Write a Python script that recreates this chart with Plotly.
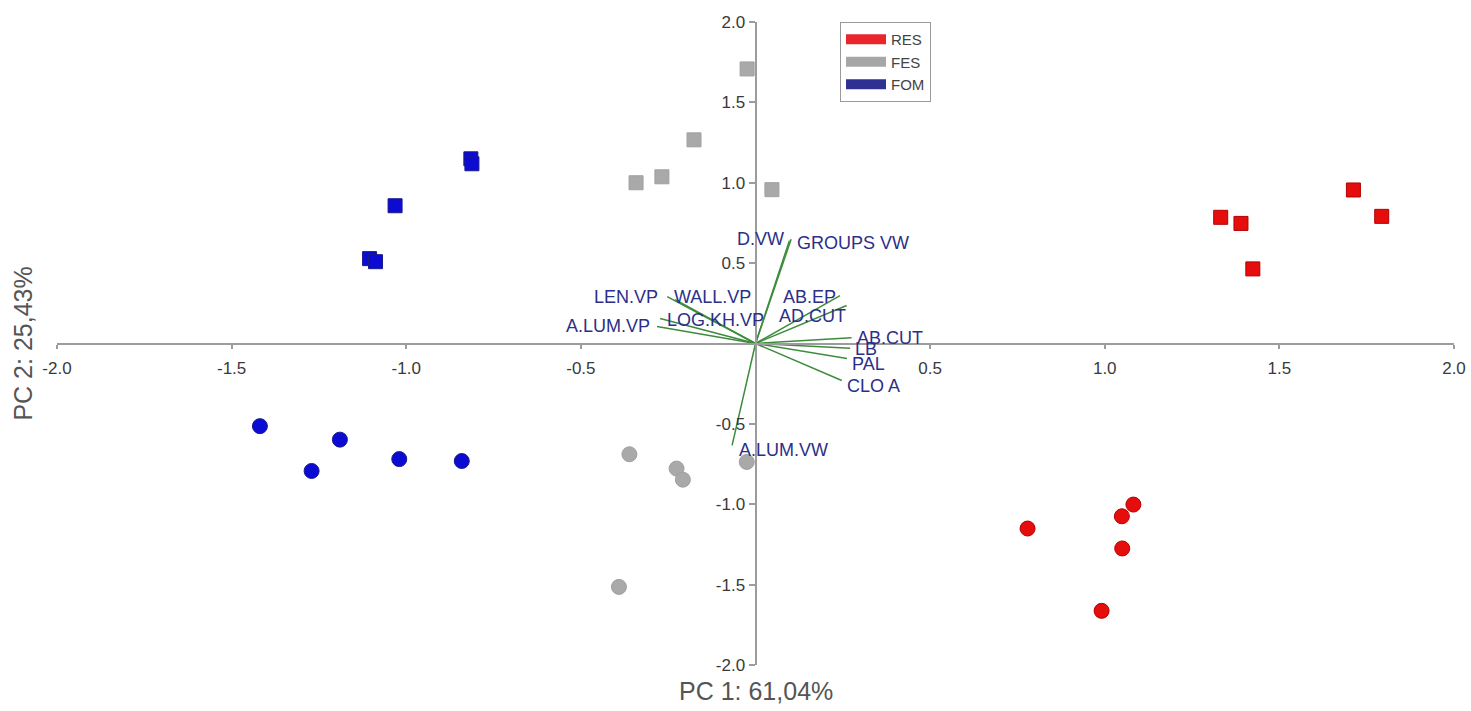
import plotly.graph_objects as go

# ---------------- data ----------------
GROUPS = ["RES", "FES", "FOM"]

# squares (upper cluster of each group)
RES_SQ_PC1 = [1.332, 1.390, 1.424, 1.712, 1.793]
RES_SQ_PC2 = [0.785, 0.747, 0.464, 0.955, 0.791]
FES_SQ_PC1 = [-0.024, -0.342, -0.268, -0.176, 0.047]
FES_SQ_PC2 = [1.708, 1.000, 1.037, 1.267, 0.957]
FOM_SQ_PC1 = [-0.815, -0.812, -1.032, -1.105, -1.088]
FOM_SQ_PC2 = [1.149, 1.118, 0.857, 0.528, 0.509]

# circles (lower cluster of each group)
RES_CI_PC1 = [0.779, 1.082, 1.049, 1.050, 0.991]
RES_CI_PC2 = [-1.151, -1.002, -1.075, -1.275, -1.663]
FES_CI_PC1 = [-0.361, -0.226, -0.208, -0.025, -0.391]
FES_CI_PC2 = [-0.689, -0.778, -0.847, -0.737, -1.514]
FOM_CI_PC1 = [-1.419, -1.190, -1.271, -1.020, -0.841]
FOM_CI_PC2 = [-0.514, -0.598, -0.793, -0.719, -0.731]

# loading vectors
LOADING_NAMES = ["D.VW", "GROUPS VW", "LEN.VP", "WALL.VP", "LOG.KH.VP", "A.LUM.VP",
                 "AB.EP", "AD.CUT", "AB.CUT", "LB", "PAL", "CLO A", "A.LUM.VW"]
LOADING_PC1 = [0.097, 0.102, -0.253, -0.230, -0.273, -0.282,
               0.242, 0.261, 0.275, 0.271, 0.262, 0.247, -0.067]
LOADING_PC2 = [0.640, 0.648, 0.292, 0.273, 0.155, 0.106,
               0.298, 0.236, 0.035, -0.030, -0.093, -0.230, -0.634]

TICK_VALUES = [-2.0, -1.5, -1.0, -0.5, 0.5, 1.0, 1.5, 2.0]
TICK_LABELS = ["-2.0", "-1.5", "-1.0", "-0.5", "0.5", "1.0", "1.5", "2.0"]
X_TITLE = "PC 1: 61,04%"
Y_TITLE = "PC 2: 25,43%"

# ---------------- styles ----------------
MARKER_COLORS = {"RES": "#e60d0d", "FES": "#a9a9a9", "FOM": "#0b0bd4"}
MARKER_EDGES = {"RES": "#b30000", "FES": "#a0a0a0", "FOM": "#1a1a8c"}
LEGEND_COLORS = {"RES": "#e8262c", "FES": "#a6a6a6", "FOM": "#2e3192"}
VECTOR_COLOR = "#3c8c3c"
LABEL_COLOR = "#2c2f88"
AXIS_COLOR = "#9c9c9c"
FONT = "Liberation Sans, Arial, sans-serif"

# label placement relative to vector end: (xanchor, xshift px, yshift px)
LABEL_PLACEMENT = {
    "D.VW": ("right", -3, 2),
    "GROUPS VW": ("left", 4, -4),
    "LEN.VP": ("right", -7, 0),
    "WALL.VP": ("left", -3, 3),
    "LOG.KH.VP": ("left", 5, -1),
    "A.LUM.VP": ("right", -5, 0),
    "AB.EP": ("right", -2, -1),
    "AD.CUT": ("right", 1, -10),
    "AB.CUT": ("left", 3, 0),
    "LB": ("left", 3, -1),
    "PAL": ("left", 3, -6),
    "CLO A": ("left", 3, -6),
    "A.LUM.VW": ("left", 5, -5),
}

fig = go.Figure()

# loading vectors (from origin)
vx, vy = [], []
for px, py in zip(LOADING_PC1, LOADING_PC2):
    vx += [0, px, None]
    vy += [0, py, None]
fig.add_trace(go.Scatter(x=vx, y=vy, mode="lines",
                         line=dict(color=VECTOR_COLOR, width=1.5),
                         showlegend=False, hoverinfo="skip"))

# score points
series = {
    "RES": ((RES_SQ_PC1, RES_SQ_PC2), (RES_CI_PC1, RES_CI_PC2)),
    "FES": ((FES_SQ_PC1, FES_SQ_PC2), (FES_CI_PC1, FES_CI_PC2)),
    "FOM": ((FOM_SQ_PC1, FOM_SQ_PC2), (FOM_CI_PC1, FOM_CI_PC2)),
}
for g in GROUPS:
    (sx, sy), (cx, cy) = series[g]
    fig.add_trace(go.Scatter(x=sx, y=sy, mode="markers", name=g, showlegend=False,
                             marker=dict(symbol="square", size=14, color=MARKER_COLORS[g],
                                         line=dict(color=MARKER_EDGES[g], width=1))))
    fig.add_trace(go.Scatter(x=cx, y=cy, mode="markers", name=g, showlegend=False,
                             marker=dict(symbol="circle", size=15, color=MARKER_COLORS[g],
                                         line=dict(color=MARKER_EDGES[g], width=1))))

# legend entries (colour bars)
for g in GROUPS:
    fig.add_trace(go.Scatter(x=[None], y=[None], mode="lines", name=g,
                             line=dict(color=LEGEND_COLORS[g], width=15)))

# vector labels
for name, px, py in zip(LOADING_NAMES, LOADING_PC1, LOADING_PC2):
    anchor, xs, ys = LABEL_PLACEMENT[name]
    fig.add_annotation(x=px, y=py, text=name, showarrow=False,
                       xanchor=anchor, yanchor="middle", xshift=xs, yshift=ys,
                       font=dict(family=FONT, size=18, color=LABEL_COLOR))

# axis titles
fig.add_annotation(x=0.5, y=-0.040, xref="paper", yref="paper", text=X_TITLE,
                   showarrow=False, xanchor="center", yanchor="middle",
                   font=dict(family=FONT, size=25, color="#555555"))
fig.add_annotation(x=-0.025, y=0.5, xref="paper", yref="paper", text=Y_TITLE,
                   showarrow=False, textangle=-90, xanchor="center", yanchor="middle",
                   font=dict(family=FONT, size=25, color="#555555"))

axis_common = dict(range=[-2.0, 2.0], domain=[0, 1], anchor="free", position=0.5,
                   showgrid=False, zeroline=False, showline=True, automargin=False,
                   linecolor=AXIS_COLOR, linewidth=2, ticks="outside",
                   tickcolor=AXIS_COLOR, tickwidth=2,
                   tickvals=TICK_VALUES, ticktext=TICK_LABELS,
                   tickfont=dict(family=FONT, size=17, color="#3a3a3a"),
                   fixedrange=True)

fig.update_layout(
    width=1471, height=711,
    margin=dict(l=57, r=17, t=22, b=46, autoexpand=False),
    plot_bgcolor="white", paper_bgcolor="white",
    xaxis=dict(axis_common, ticklen=4, ticklabelstandoff=5),
    yaxis=dict(axis_common, ticklen=6),
    showlegend=True,
    legend=dict(x=0.5605, y=1.0, xanchor="left", yanchor="top",
                bordercolor="#9a9a9a", borderwidth=1, bgcolor="white",
                font=dict(family=FONT, size=15, color="#444444"),
                itemwidth=40, tracegroupgap=0),
)

fig.write_html("out.html", config={"displayModeBar": False},
               post_script="document.body.style.margin='0';document.body.style.overflow='hidden';")
